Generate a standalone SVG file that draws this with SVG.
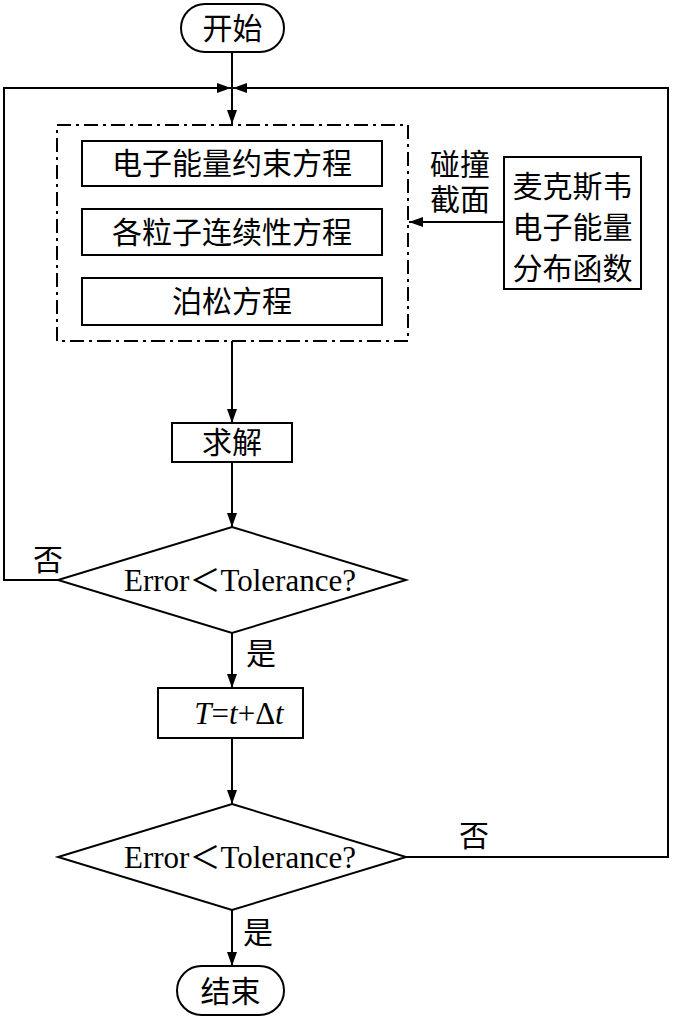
<svg xmlns="http://www.w3.org/2000/svg" width="674" height="1018" viewBox="0 0 674 1018">
<style>
.s{fill:none;stroke:#000;stroke-width:2}
.b{fill:#fff;stroke:#000;stroke-width:2}
.cn{font-family:"Liberation Serif","Noto Sans CJK SC",serif;font-size:30px;fill:#000;text-anchor:middle}
.en{font-family:"Liberation Serif","Noto Sans CJK SC",serif;font-size:31px;fill:#000;text-anchor:middle}
</style>
<defs>
<marker id="ah" viewBox="0 0 14 10" refX="14" refY="5" markerWidth="14" markerHeight="10" markerUnits="userSpaceOnUse" orient="auto">
<path d="M0,0 L14,5 L0,10 Z" fill="#000"/>
</marker>
</defs>
<g id="connectors">
<line class="s" x1="232" y1="52" x2="232" y2="124" marker-end="url(#ah)"/>
<polyline class="s" points="58,580 4,580 4,88 231,88" marker-end="url(#ah)"/>
<polyline class="s" points="406,857 668,857 668,88 233,88" marker-end="url(#ah)"/>
<line class="s" x1="504" y1="222" x2="409" y2="222" marker-end="url(#ah)"/>
<line class="s" x1="232" y1="341" x2="232" y2="423" marker-end="url(#ah)"/>
<line class="s" x1="232" y1="462" x2="232" y2="527" marker-end="url(#ah)"/>
<line class="s" x1="232" y1="633" x2="232" y2="688" marker-end="url(#ah)"/>
<line class="s" x1="232" y1="738" x2="232" y2="804" marker-end="url(#ah)"/>
<line class="s" x1="232" y1="910" x2="232" y2="966" marker-end="url(#ah)"/>
<text class="cn" x="48" y="570">否</text>
<text class="cn" x="261" y="664">是</text>
<text class="cn" x="474" y="846">否</text>
<text class="cn" x="258" y="943">是</text>
<text class="cn" x="460" y="175" font-size="31">碰撞</text>
<text class="cn" x="460" y="210" font-size="31">截面</text>
</g>
<g id="start">
<rect class="b" x="181" y="4" width="103" height="48" rx="24"/>
<text class="cn" x="232.5" y="39">开始</text>
</g>
<g id="group">
<rect x="57" y="125" width="351" height="216" fill="none" stroke="#000" stroke-width="2" stroke-dasharray="14,5,3,5"/>
</g>
<g id="eq1">
<rect class="b" x="82" y="141" width="300" height="45"/>
<text class="cn" x="232" y="174" font-size="31">电子能量约束方程</text>
</g>
<g id="eq2">
<rect class="b" x="82" y="209" width="300" height="46"/>
<text class="cn" x="232" y="243" font-size="31">各粒子连续性方程</text>
</g>
<g id="eq3">
<rect class="b" x="82" y="278" width="300" height="47"/>
<text class="cn" x="232" y="312" font-size="31">泊松方程</text>
</g>
<g id="maxwell">
<rect class="b" x="504" y="157" width="137" height="132"/>
<text class="cn" x="572.5" y="197" font-size="31">麦克斯韦</text>
<text class="cn" x="572.5" y="238" font-size="31">电子能量</text>
<text class="cn" x="572.5" y="279" font-size="31">分布函数</text>
</g>
<g id="solve">
<rect class="b" x="172" y="423" width="120" height="39"/>
<text class="cn" x="232" y="453">求解</text>
</g>
<g id="check1">
<polygon class="b" points="232,527 406,580 232,633 58,580"/>
<text class="en" x="240" y="591">Error＜Tolerance?</text>
</g>
<g id="update">
<rect class="b" x="158" y="688" width="145" height="50"/>
<text class="en" x="239" y="724" font-size="32"><tspan font-style="italic">T</tspan>=<tspan font-style="italic">t</tspan>+Δ<tspan font-style="italic">t</tspan></text>
</g>
<g id="check2">
<polygon class="b" points="232,804 406,857 232,910 58,857"/>
<text class="en" x="240" y="868">Error＜Tolerance?</text>
</g>
<g id="end">
<rect class="b" x="177" y="966" width="107" height="49" rx="24.5"/>
<text class="cn" x="230.5" y="1002">结束</text>
</g>
</svg>
